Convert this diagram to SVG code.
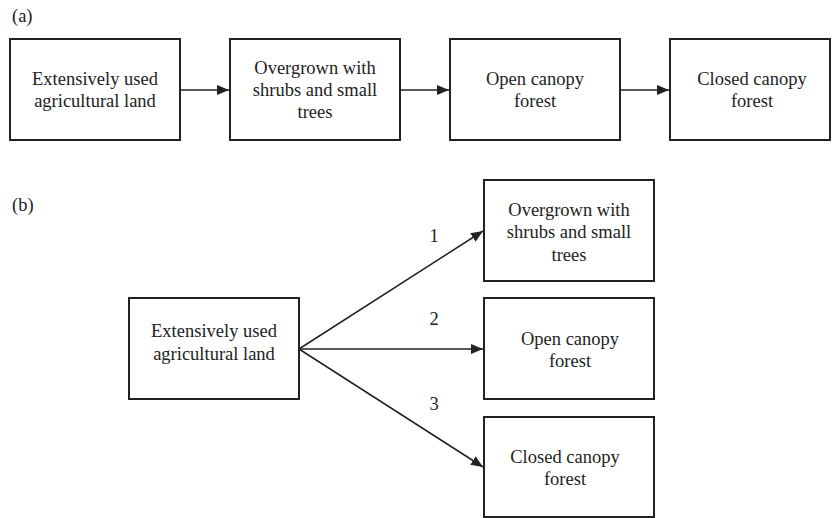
<svg xmlns="http://www.w3.org/2000/svg" width="832" height="518" viewBox="0 0 832 518">
<style>
.box{fill:#fff;stroke:#222;stroke-width:2}
text{font-family:'Liberation Serif','DejaVu Serif',serif;font-size:18.5px;fill:#222}
.c{text-anchor:middle}
.ln{stroke:#222;stroke-width:1.5;fill:none}
</style>
<defs>
<marker id="ah" viewBox="0 0 12 10" refX="12" refY="5" markerWidth="12" markerHeight="10" markerUnits="userSpaceOnUse" orient="auto">
<path d="M0,0 L12,5 L0,10 z" fill="#222"/>
</marker>
</defs>
<rect width="832" height="518" fill="#fff"/>
<text x="12" y="22">(a)</text>
<text x="12" y="211">(b)</text>
<g id="a1"><rect class="box" x="10" y="39" width="170" height="101"/>
<text class="c" x="95" y="85">Extensively used</text><text class="c" x="95" y="107">agricultural land</text></g>
<g id="a2"><rect class="box" x="230" y="39" width="170" height="101"/>
<text class="c" x="315" y="74">Overgrown with</text><text class="c" x="315" y="96">shrubs and small</text><text class="c" x="315" y="118">trees</text></g>
<g id="a3"><rect class="box" x="450" y="39" width="170" height="101"/>
<text class="c" x="535" y="85">Open canopy</text><text class="c" x="535" y="107">forest</text></g>
<g id="a4"><rect class="box" x="670" y="39" width="160" height="101"/>
<text class="c" x="752" y="85">Closed canopy</text><text class="c" x="752" y="107">forest</text></g>
<g id="b0"><rect class="box" x="129" y="298" width="170" height="101"/>
<text class="c" x="214" y="337">Extensively used</text><text class="c" x="214" y="360">agricultural land</text></g>
<g id="b1"><rect class="box" x="484" y="180" width="170" height="101"/>
<text class="c" x="569" y="216">Overgrown with</text><text class="c" x="569" y="238">shrubs and small</text><text class="c" x="569" y="261">trees</text></g>
<g id="b2"><rect class="box" x="484" y="298" width="170" height="101"/>
<text class="c" x="570" y="345">Open canopy</text><text class="c" x="570" y="367">forest</text></g>
<g id="b3"><rect class="box" x="484" y="417" width="170" height="100"/>
<text class="c" x="565" y="463">Closed canopy</text><text class="c" x="565" y="485">forest</text></g>
<g id="connectors">
<line class="ln" x1="181" y1="90" x2="229" y2="90" marker-end="url(#ah)"/>
<line class="ln" x1="401" y1="90" x2="449" y2="90" marker-end="url(#ah)"/>
<line class="ln" x1="621" y1="90" x2="669" y2="90" marker-end="url(#ah)"/>
<line class="ln" x1="299" y1="349" x2="483" y2="231" marker-end="url(#ah)"/>
<line class="ln" x1="299" y1="349" x2="483" y2="349" marker-end="url(#ah)"/>
<line class="ln" x1="299" y1="349" x2="483" y2="467" marker-end="url(#ah)"/>
<text class="c" x="434" y="242">1</text>
<text class="c" x="434" y="325">2</text>
<text class="c" x="434" y="410">3</text>
</g>
</svg>
